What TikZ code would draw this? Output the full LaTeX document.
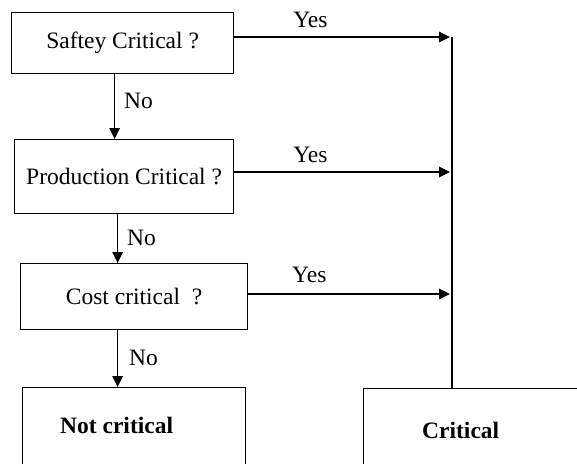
\documentclass[tikz,border=0pt]{standalone}
\usepackage{fontspec}
\setmainfont{Liberation Serif}
\usetikzlibrary{arrows.meta}
\tikzset{
  qbox/.style={draw, line width=1.2pt, inner sep=0pt, anchor=north west, font=\fontsize{23.5}{26}\selectfont},
  endbox/.style={draw, line width=1.2pt, anchor=north west, minimum height=100pt},
  flow/.style={-{Triangle[length=11pt,width=10.5pt]}, line width=1.2pt},
  wire/.style={line width=1.2pt},
  lbl/.style={font=\fontsize{23.5}{26}\selectfont, inner sep=0pt},
  endlbl/.style={font=\fontsize{23.5}{26}\selectfont\bfseries, inner sep=0pt, anchor=base west},
}

\begin{document}
\begin{tikzpicture}[x=1pt, y=-1pt]
  \useasboundingbox (0,0) rectangle (577,463);
  \clip (0,0) rectangle (577,463);
  % question boxes
  \node[qbox, minimum width=222pt, minimum height=61pt] (safety) at (11,12)  {Saftey Critical ?};
  \node[qbox, minimum width=219pt, minimum height=74pt] (prod)   at (14,139) {Production Critical ?};
  \node[qbox, minimum width=227pt, minimum height=66pt] (cost)   at (20,263) {Cost critical\ \ ?};
  % outcome boxes
  \node[endbox, minimum width=223pt] (notcrit) at (22,387) {};
  \node[endbox, minimum width=250pt] (crit)    at (363,388) {};
  \node[endlbl] (notcrittxt) at ([xshift=38pt, yshift=-46pt]notcrit.north west) {Not critical};
  \node[endlbl] (crittxt)    at ([xshift=59pt, yshift=-50pt]crit.north west) {Critical};
  % collecting line
  \coordinate (top) at (452,37);
  \coordinate (mid) at (452,172);
  \coordinate (low) at (452,294);
  \draw[wire] (top) -- (crit.north west -| top);
  % yes branches
  \draw[flow, shorten >=2pt] (safety.east |- top) -- node[lbl, pos=0.35, above=9pt] (yes1) {Yes} (top);
  \draw[flow, shorten >=2pt] (prod.east |- mid)   -- node[lbl, pos=0.35, above=9pt] (yes2) {Yes} (mid);
  \draw[flow, shorten >=2pt] (cost.east |- low)   -- node[lbl, pos=0.30, above=11pt] (yes3) {Yes} (low);
  % no branches
  \draw[flow] ([xshift=-8pt]safety.south) -- node[lbl, pos=0.41, right=9pt] (no1) {No} ([xshift=-8pt]safety.south |- prod.north);
  \draw[flow] ([xshift=-6.5pt]prod.south) -- node[lbl, pos=0.49, right=9pt] (no2) {No} ([xshift=-6.5pt]prod.south |- cost.north);
  \draw[flow] ([xshift=-16.5pt]cost.south) -- node[lbl, pos=0.48, right=11pt] (no3) {No} ([xshift=-16.5pt]cost.south |- notcrit.north);
\end{tikzpicture}
\end{document}
